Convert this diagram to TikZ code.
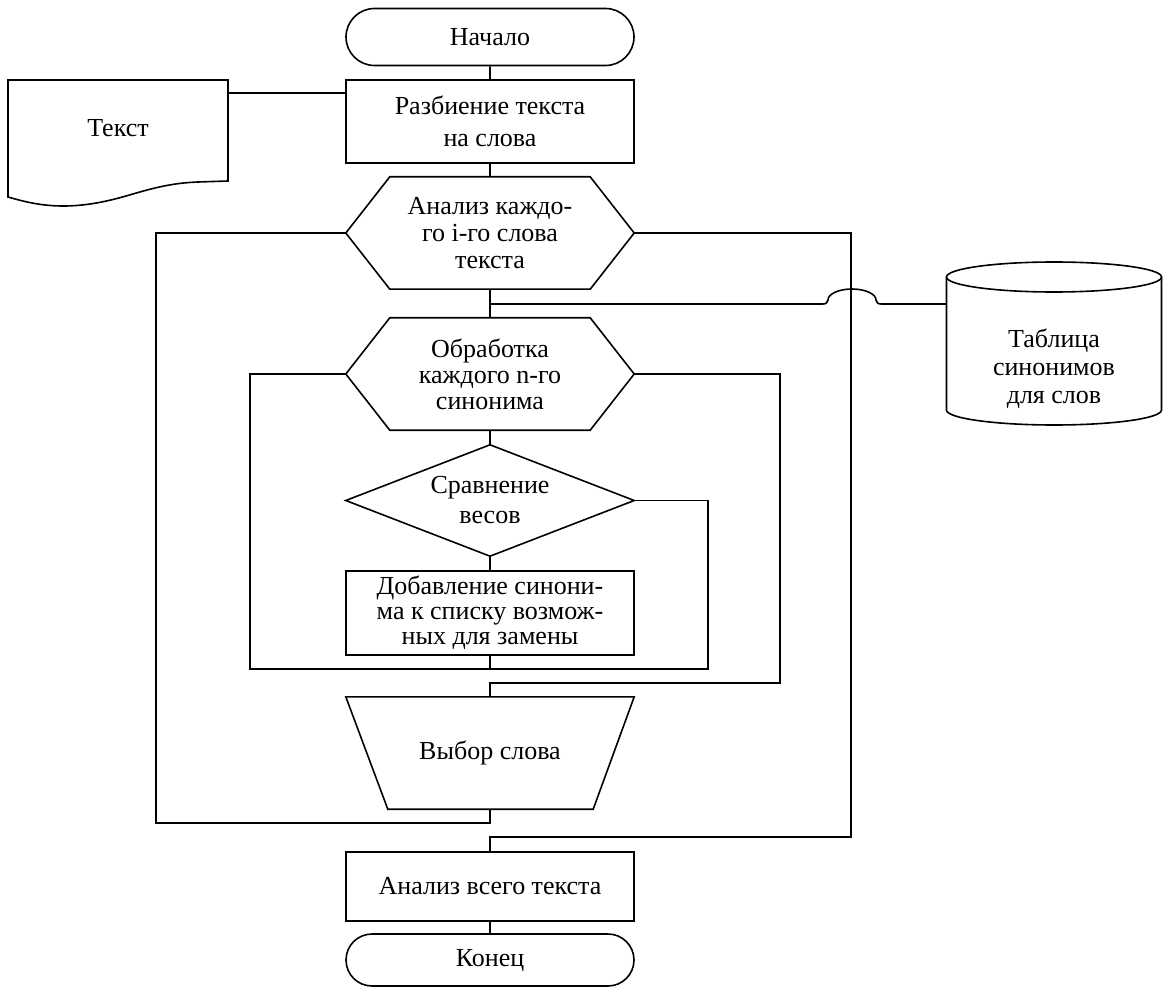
\documentclass[tikz,border=0pt]{standalone}
\usepackage{fontspec}
\setmainfont{Liberation Serif}
\usetikzlibrary{shapes.misc,calc}
\tikzset{
  base/.style={font=\fontsize{26}{27}\selectfont, align=center, inner sep=0pt},
  term/.style={base, draw, line width=1.6pt, rounded rectangle, minimum width=288pt, minimum height=57pt},
  proc/.style={base, draw, line width=1.6pt, rectangle, minimum width=288pt},
  ghost/.style={base, rectangle, minimum width=288pt},
  conn/.style={line width=1.6pt},
  outline/.style={line width=1.6pt, line join=miter},
}
\begin{document}
\begin{tikzpicture}[x=1pt,y=-1pt]
\useasboundingbox (0,0) rectangle (1163,987);
\fill[white] (0,0) rectangle (1163,987);

% nodes
\node[term] (start) at (490,37) {Начало};
\node[proc, minimum height=83pt, font=\fontsize{26}{32}\selectfont] (split) at (490,121.5) {Разбиение текста\\на слова};
\node[ghost, minimum height=112pt] (h1) at (490,233) {Анализ каждо-\\го i-го слова\\текста};
\node[ghost, minimum height=112pt, font=\fontsize{26}{26}\selectfont] (h2) at (490,374) {Обработка\\каждого n-го\\синонима};
\node[ghost, minimum height=111pt, font=\fontsize{26}{30}\selectfont] (cmp) at (490,500.5) {Сравнение\\весов};
\node[proc, minimum height=84pt, font=\fontsize{26}{25}\selectfont] (add) at (490,613) {Добавление синони-\\ма к списку возмож-\\ных для замены};
\node[ghost, minimum height=112pt] (sel) at (490,753) {Выбор слова};
\node[proc, minimum height=69pt] (all) at (490,886.5) {Анализ всего текста};
\node[term, minimum height=52pt] (end) at (490,960) {Конец};
\node[base, minimum width=220pt] (doc) at (118,128) {Текст};
\node[base, minimum width=215pt, minimum height=163pt] (tab) at (1054,343.5) {};
\node[base, font=\fontsize{26}{28}\selectfont] (tabtxt) at (1054,369) {Таблица\\синонимов\\для слов};

% shapes
\draw[outline] (h1.west) -- ([xshift=44pt]h1.north west) -- ([xshift=-44pt]h1.north east) -- (h1.east) -- ([xshift=-44pt]h1.south east) -- ([xshift=44pt]h1.south west) -- cycle;
\draw[outline] (h2.west) -- ([xshift=44pt]h2.north west) -- ([xshift=-44pt]h2.north east) -- (h2.east) -- ([xshift=-44pt]h2.south east) -- ([xshift=44pt]h2.south west) -- cycle;
\draw[outline] (cmp.west) -- (cmp.north) -- (cmp.east) -- (cmp.south) -- cycle;
\draw[outline] (sel.north west) -- (sel.north east) -- ([xshift=-41pt]sel.south east) -- ([xshift=42pt]sel.south west) -- cycle;
\draw[outline] (8,80) -- (228,80) -- (228,181) -- (198,182) .. controls (170,183) and (150,189) .. (126,196) .. controls (105,202) and (85,206) .. (63,206) .. controls (40,206) and (22,201) .. (8,197) -- cycle;
\draw[outline] (1054,277) ellipse [x radius=107.5, y radius=15];
\draw[outline] (946.5,277) -- (946.5,410) arc[start angle=180, end angle=0, x radius=107.5, y radius=15] -- (1161.5,277);

% connectors
\coordinate (docR) at (228,93);
\coordinate (br) at (490,304);
\coordinate (j1) at (490,669);
\draw[conn] (start) -- (split);
\draw[conn] (docR) -- (split.west |- docR);
\draw[conn] (split) -- (h1);
\draw[conn] (h1) -- (h2);
\draw[conn] (br) -- (823,304) .. controls (827,304) and (827,302) .. (828,300) arc[start angle=180, end angle=360, x radius=24, y radius=11] .. controls (877,302) and (877,304) .. (881,304) -- (tab.west |- br);
\draw[conn] (h2) -- (cmp);
\draw[conn] (cmp) -- (add);
\draw[conn] (h2.west) -| (250,669) -- (j1) -- (add.south);
\draw[conn] (cmp.east) -| (708,669) -- (j1);
\draw[conn] (h2.east) -| (780,683) -| (sel.north);
\draw[conn] (h1.west) -| (156,823) -| (sel.south);
\draw[conn] (h1.east) -| (851,837) -| (all.north);
\draw[conn] (all) -- (end);
\end{tikzpicture}
\end{document}
